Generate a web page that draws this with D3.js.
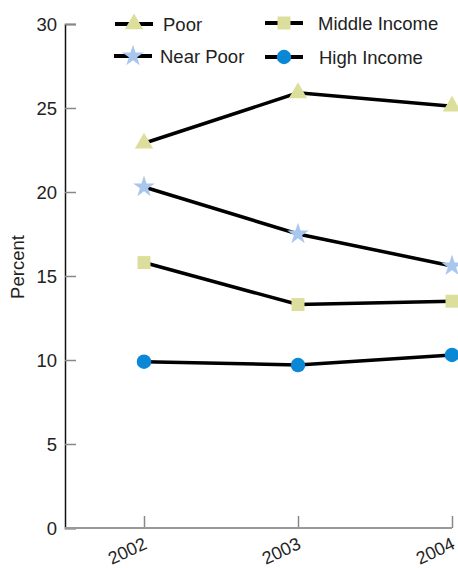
<!DOCTYPE html>
<html><head><meta charset="utf-8">
<script src="https://cdn.jsdelivr.net/npm/d3@7"></script>
<style>html,body{margin:0;padding:0;background:#fff}svg{display:block}text{font-family:"Liberation Sans",Arial,sans-serif;fill:#222}</style>
</head><body>
<script>
const years = [2002, 2003, 2004];
const seriesNames = ["Poor", "Near Poor", "Middle Income", "High Income"];
const poor = [22.9, 25.9, 25.1];
const nearPoor = [20.3, 17.5, 15.6];
const middleIncome = [15.8, 13.3, 13.5];
const highIncome = [9.9, 9.7, 10.3];
const yTicks = [0, 5, 10, 15, 20, 25, 30];
const yLabel = "Percent";

const W = 458, H = 568;
const svg = d3.select("body").append("svg").attr("width", W).attr("height", H);
const x = d3.scaleLinear().domain([2002, 2004]).range([144, 452]);
const y = d3.scaleLinear().domain([0, 30]).range([528, 24]);

const styles = [
  {sym: d3.symbolTriangle, size: 145, fill: "#dcdf9c"},
  {sym: d3.symbolStar, size: 145, fill: "#a9c6ec"},
  {sym: d3.symbolSquare, size: 169, fill: "#dcdf9c"},
  {sym: d3.symbolCircle, size: 165, fill: "#0a88d6"}
];
const data = [poor, nearPoor, middleIncome, highIncome];

// Y axis
const yAxis = d3.axisRight(y).tickValues(yTicks).tickSize(11).tickFormat("");
const gy = svg.append("g").attr("transform", "translate(65,0)").call(yAxis);
gy.select(".domain").attr("stroke", "#111").attr("stroke-width", 1.5);
gy.selectAll(".tick line").attr("stroke", "#888").attr("stroke-width", 1.5);
svg.append("g").selectAll("text").data(yTicks).join("text")
  .attr("x", 57).attr("y", d => y(d) + 6.5).attr("text-anchor", "end")
  .attr("font-size", 18.5).text(d => d);

// X axis
const xAxis = d3.axisTop(x).tickValues(years).tickSize(12).tickFormat("");
const gx = svg.append("g").attr("transform", "translate(0,528)").call(xAxis);
gx.select(".domain").remove();
gx.selectAll(".tick line").attr("stroke", "#888").attr("stroke-width", 1.5);
svg.append("line").attr("x1", 65).attr("x2", x(2004)).attr("y1", 528).attr("y2", 528)
  .attr("stroke", "#999").attr("stroke-width", 2);
svg.append("g").selectAll("text").data(years).join("text")
  .attr("text-anchor", "end").attr("font-size", 18)
  .attr("transform", d => `translate(${x(d) + 4},${548}) rotate(-25)`)
  .text(d => d);

svg.append("text").attr("font-size", 18.5).attr("text-anchor", "middle")
  .attr("transform", "translate(24,267) rotate(-90)").text(yLabel);

// Lines
const line = d3.line().x((d, i) => x(years[i])).y(d => y(d));
data.forEach((s, k) => {
  svg.append("path").datum(s).attr("d", line).attr("fill", "none")
    .attr("stroke", "#000").attr("stroke-width", 3.5);
});
data.forEach((s, k) => {
  const st = styles[k];
  svg.append("g").selectAll("path").data(s).join("path")
    .attr("transform", (d, i) => `translate(${x(years[i])},${y(d)})`)
    .attr("d", d3.symbol(st.sym, st.size)).attr("fill", st.fill);
});

// Legend
const legPos = [
  {lx: 115, cy: 24, tx: 163},
  {lx: 114, cy: 56, tx: 160},
  {lx: 265, cy: 23, tx: 318},
  {lx: 265, cy: 57, tx: 319}
];
seriesNames.forEach((n, k) => {
  const p = legPos[k], st = styles[k];
  svg.append("line").attr("x1", p.lx).attr("x2", p.lx + 38).attr("y1", p.cy).attr("y2", p.cy)
    .attr("stroke", "#000").attr("stroke-width", 4);
  svg.append("path").attr("transform", `translate(${p.lx + 19},${p.cy})`)
    .attr("d", d3.symbol(st.sym, st.size)).attr("fill", st.fill);
  svg.append("text").attr("x", p.tx).attr("y", p.cy + 6.5).attr("font-size", 18.5).text(n);
});
</script>
</body></html>
